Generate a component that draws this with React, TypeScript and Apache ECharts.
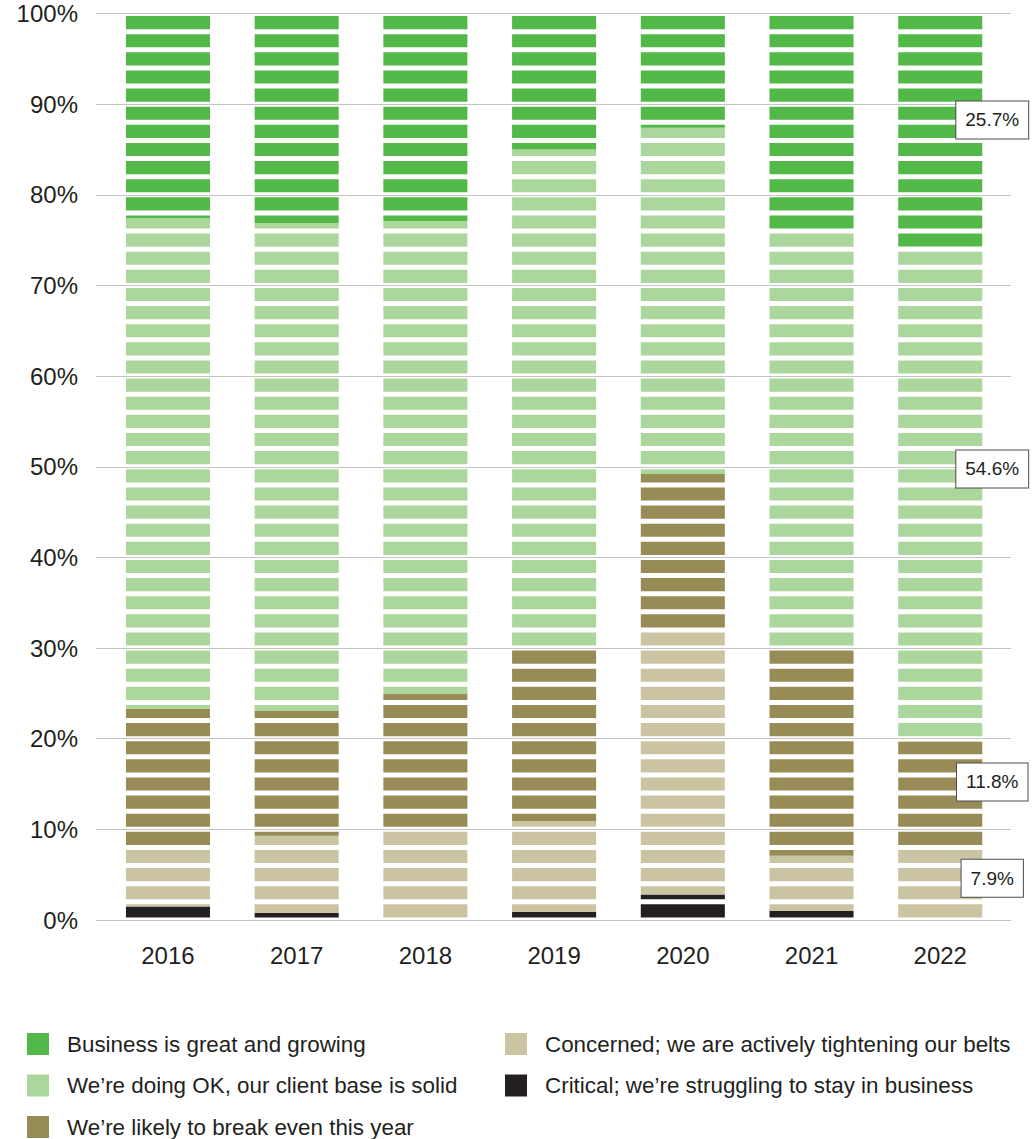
import React, { useEffect, useRef } from "react";
import * as echarts from "echarts";

// ---- Data ----
const years = ["2016", "2017", "2018", "2019", "2020", "2021", "2022"];
const seriesNames = [
  "Business is great and growing",
  "We\u2019re doing OK, our client base is solid",
  "We\u2019re likely to break even this year",
  "Concerned; we are actively tightening our belts",
  "Critical; we\u2019re struggling to stay in business",
];
const great = [22.6, 23.1, 22.9, 15.0, 12.6, 24.0, 25.7];
const doingOk = [54.1, 53.8, 52.1, 55.0, 38.2, 46.0, 54.6];
const breakEven = [15.3, 13.8, 15.0, 19.1, 17.2, 22.9, 11.8];
const concerned = [6.5, 8.5, 10.0, 10.0, 29.2, 6.1, 7.9];
const critical = [1.5, 0.8, 0, 0.9, 2.8, 1.0, 0];
const yMin = 0;
const yMax = 100;
const yInterval = 10;
const stripeStep = 2; // bars are drawn as 2% bands
const calloutYearIndex = 6;

// ---- Styles ----
const FONT = "'Liberation Sans', Arial, Helvetica, sans-serif";
const TEXT = "#231f20";
const colors = ["#52b848", "#abd69c", "#978b56", "#cbc4a2", "#231f20"];
const BAR_FRAC = 0.653;
const GAP_HALF = 0.276;
// label offset (px) for each series' callout on the last bar
const calloutOffsets = [
  [52, -10],
  [52, -25],
  [52, -13],
  [52, -6],
  [52, 0],
];

export default function App() {
  const ref = useRef<HTMLDivElement>(null);

  useEffect(() => {
    document.body.style.margin = "0";
    if (!ref.current) return;
    const chart = echarts.init(ref.current, undefined, { renderer: "svg" });

    // stack order bottom -> top
    const stackOrder = [4, 3, 2, 1, 0];
    const valuesBySeries = [great, doingOk, breakEven, concerned, critical];

    const mainSeries = stackOrder.map((si) => ({
      type: "bar",
      name: seriesNames[si],
      stack: "total",
      xAxisIndex: 1,
      yAxisIndex: 1,
      barWidth: BAR_FRAC * 100 + "%",
      barGap: "-100%",
      z: 2,
      silent: true,
      itemStyle: { color: colors[si] },
      data: valuesBySeries[si],
    }));

    const labelSeries = stackOrder.map((si) => ({
      type: "bar",
      name: seriesNames[si] + " (label)",
      stack: "labels",
      xAxisIndex: 1,
      yAxisIndex: 1,
      barWidth: BAR_FRAC * 100 + "%",
      barGap: "-100%",
      z: 5,
      silent: true,
      itemStyle: { color: "rgba(0,0,0,0)" },
      data: valuesBySeries[si].map((v, i) =>
        i === calloutYearIndex && v > 0
          ? {
              value: v,
              label: {
                show: true,
                position: "inside",
                offset: calloutOffsets[si],
                formatter: "{c}%",
                fontFamily: FONT,
                fontSize: 19,
                lineHeight: 21,
                color: TEXT,
                textBorderWidth: 0,
                backgroundColor: "#ffffff",
                borderColor: "#4d4d4d",
                borderWidth: 1,
                padding: [8, 9, 8, 9],
              },
            }
          : v
      ),
    }));

    const stripeSeries = {
      type: "custom",
      xAxisIndex: 1,
      yAxisIndex: 1,
      z: 3,
      silent: true,
      data: years.map((_, i) => [i]),
      renderItem: (_params: any, api: any) => {
        const idx = api.value(0);
        const base = api.coord([idx, 0]);
        const w = api.size([1, 0])[0] * BAR_FRAC;
        const children: any[] = [];
        for (let v = yMin; v <= yMax; v += stripeStep) {
          const lo = Math.max(yMin, v - GAP_HALF);
          const hi = Math.min(yMax, v + GAP_HALF);
          const pLo = api.coord([idx, lo]);
          const pHi = api.coord([idx, hi]);
          children.push({
            type: "rect",
            shape: {
              x: base[0] - w / 2 - 1,
              y: pHi[1],
              width: w + 2,
              height: pLo[1] - pHi[1],
            },
            style: { fill: "#ffffff" },
          });
        }
        return { type: "group", children };
      },
    };

    const legendCommon = {
      orient: "vertical",
      top: 1033,
      padding: 0,
      itemWidth: 22,
      itemHeight: 22,
      itemGap: 19.5,
      icon: "rect",
      selectedMode: false,
      textStyle: {
        fontFamily: FONT,
        fontSize: 22.4,
        lineHeight: 22,
        color: TEXT,
        padding: [0, 0, 0, 13],
      },
    };

    chart.setOption({
      animation: false,
      textStyle: { fontFamily: FONT },
      grid: [
        { left: 96, right: 25, top: 13.5, bottom: 219 },
        { left: 103.6, right: 31.4, top: 13.5, bottom: 219 },
      ],
      legend: [
        { ...legendCommon, left: 27, data: [seriesNames[0], seriesNames[1], seriesNames[2]] },
        { ...legendCommon, left: 505, data: [seriesNames[3], seriesNames[4]] },
      ],
      xAxis: [
        { type: "value", gridIndex: 0, min: 0, max: 1, show: false },
        {
          type: "category",
          gridIndex: 1,
          data: years,
          axisLine: { show: false },
          axisTick: { show: false },
          axisLabel: {
            fontFamily: FONT,
            fontSize: 24,
            color: TEXT,
            margin: 23,
          },
        },
      ],
      yAxis: [
        {
          type: "value",
          gridIndex: 0,
          min: yMin,
          max: yMax,
          interval: yInterval,
          z: 4,
          axisLine: { show: false },
          axisTick: { show: false },
          axisLabel: {
            formatter: "{value}%",
            fontFamily: FONT,
            fontSize: 24,
            color: TEXT,
            margin: 18,
          },
          splitLine: { lineStyle: { color: "#c4c4c4", width: 1 } },
        },
        {
          type: "value",
          gridIndex: 1,
          min: yMin,
          max: yMax,
          interval: yInterval,
          show: false,
          splitLine: { show: false },
        },
      ],
      series: [...mainSeries, stripeSeries, ...labelSeries],
    });

    return () => chart.dispose();
  }, []);

  return <div ref={ref} style={{ width: 1036, height: 1139 }} />;
}
